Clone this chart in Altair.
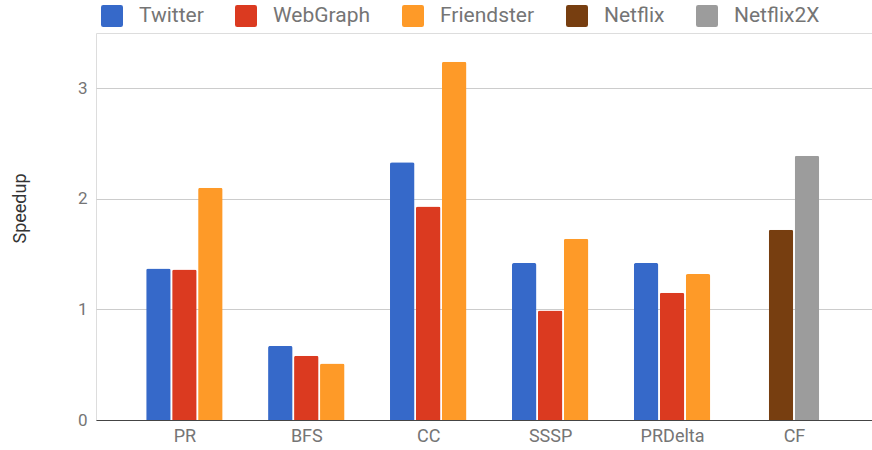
import altair as alt
import pandas as pd

categories = ["PR", "BFS", "CC", "SSSP", "PRDelta", "CF"]
series_names = ["Twitter", "WebGraph", "Friendster", "Netflix", "Netflix2X"]
twitter = [1.37, 0.67, 2.33, 1.42, 1.42, None]
webgraph = [1.36, 0.58, 1.93, 0.99, 1.15, None]
friendster = [2.10, 0.51, 3.24, 1.64, 1.32, None]
netflix = [None, None, None, None, None, 1.72]
netflix2x = [None, None, None, None, None, 2.39]
colors = ["#3669c9", "#db3a20", "#fe9a28", "#773e10", "#9c9c9c"]

series_values = [twitter, webgraph, friendster, netflix, netflix2x]
SLOT = 0.213  # slot pitch in category units

rows = []
for i, cat in enumerate(categories):
    present = [(s, vals[i]) for s, vals in zip(series_names, series_values) if vals[i] is not None]
    n = len(present)
    for k, (s, v) in enumerate(present):
        rows.append({"category": cat, "idx": i, "series": s, "value": v,
                     "pos": i + (k - (n - 1) / 2) * SLOT})
df = pd.DataFrame(rows)

label_expr = "[" + ",".join(f"'{c}'" for c in categories) + "][datum.value]"
rounded_square = ("M-1,-0.8 Q-1,-1 -0.8,-1 L0.8,-1 Q1,-1 1,-0.8 L1,0.8 Q1,1 0.8,1 "
                  "L-0.8,1 Q-1,1 -1,0.8 Z")

chart = alt.Chart(df).mark_bar(size=24.5, cornerRadiusTopLeft=2, cornerRadiusTopRight=2).encode(
    x=alt.X("pos:Q",
            scale=alt.Scale(domain=[-0.684, 5.599], nice=False, zero=False),
            axis=alt.Axis(values=list(range(len(categories))), labelExpr=label_expr,
                          title=None, grid=False, ticks=False, domain=True,
                          domainColor="#444444", domainWidth=1,
                          labelFontSize=18, labelColor="#757575", labelFont="Roboto",
                          labelPadding=7)),
    y=alt.Y("value:Q",
            scale=alt.Scale(domain=[0, 3.5], nice=False),
            axis=alt.Axis(values=[0, 1, 2, 3], title="Speedup", grid=True,
                          gridColor="#cccccc", domain=False, ticks=False,
                          labelFontSize=17, labelColor="#757575", labelFont="Roboto",
                          labelPadding=9,
                          titleFontSize=18, titleFont="Roboto", titleColor="#333333",
                          titleFontWeight="normal", titleAngle=-90,
                          titleX=-76, titleY=175, titleAlign="center",
                          titleBaseline="middle")),
    color=alt.Color("series:N",
                    scale=alt.Scale(domain=series_names, range=colors),
                    legend=alt.Legend(orient="none", direction="horizontal",
                                      legendX=5, legendY=-28, title=None,
                                      symbolType=rounded_square, symbolSize=484,
                                      symbolStrokeWidth=0, labelFontSize=21,
                                      labelFont="Roboto", labelColor="#757575",
                                      labelOffset=16, columnPadding=31)),
).properties(
    width=776, height=387,
    autosize=alt.AutoSizeParams(type="none"),
    padding={"left": 96, "top": 33, "right": 0, "bottom": 30},
).configure_view(stroke=None).configure(background="white")

chart.save("out.html", embed_options={"renderer": "svg", "actions": False})
